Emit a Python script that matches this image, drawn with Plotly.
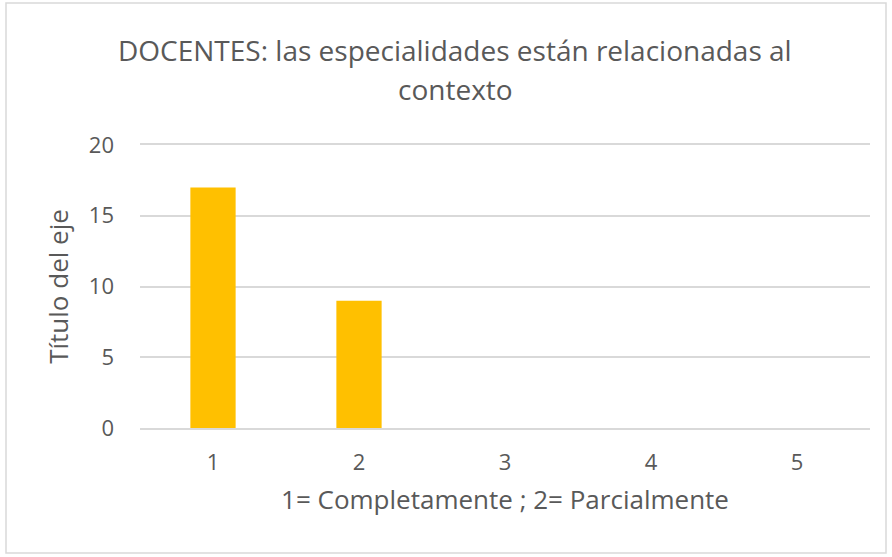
import plotly.graph_objects as go

categories = ["1", "2", "3", "4", "5"]
values = [17, 9, 0, 0, 0]
y_ticks = [0, 5, 10, 15, 20]
title_lines = ["DOCENTES: las especialidades están relacionadas al", "contexto"]
x_title = "1= Completamente ; 2= Parcialmente"
y_title = "Título del eje"

FONT = "Open Sans"
GREY = "#595959"
GRID = "#D9D9D9"

fig = go.Figure()
fig.add_trace(go.Bar(
    x=categories, y=values,
    marker=dict(color="#FFC000", line=dict(width=0)),
    width=0.31,
))

L, R, T, B = 140, 22, 145, 129
W, H = 892, 557
pw, ph = W - L - R, H - T - B

fig.update_layout(
    width=W, height=H,
    margin=dict(l=L, r=R, t=T, b=B),
    paper_bgcolor="white", plot_bgcolor="white",
    showlegend=False,
    font=dict(family=FONT, color=GREY, size=22),
    xaxis=dict(
        type="category", showgrid=False, zeroline=False,
        showline=True, mirror=True, linecolor=GRID, linewidth=1.5,
        ticks="", tickfont=dict(size=22, color=GREY), ticklabelstandoff=14,
        title=dict(text=x_title, font=dict(size=26, color=GREY), standoff=16),
    ),
    yaxis=dict(
        range=[0, 20], tickvals=y_ticks, showgrid=True, gridcolor=GRID,
        gridwidth=1.5, zeroline=False, showline=False, ticks="",
        tickfont=dict(size=22, color=GREY), ticklabelstandoff=25,
        title=dict(text=y_title, font=dict(size=26, color=GREY), standoff=12),
    ),
)

for line, ypx in zip(title_lines, [50, 89]):
    fig.add_annotation(
        text=line, xref="paper", yref="paper",
        x=(455 - L) / pw, y=(H - B - ypx) / ph,
        xanchor="center", yanchor="middle", showarrow=False,
        font=dict(family=FONT, size=28, color=GREY),
    )

fig.add_shape(
    type="rect", xref="paper", yref="paper",
    x0=(6 - L) / pw, x1=(886 - L) / pw,
    y0=(H - B - 553) / ph, y1=(H - B - 3) / ph,
    line=dict(color=GRID, width=1.5), fillcolor="rgba(0,0,0,0)",
)

fig.write_html(
    "out.html",
    config={"displayModeBar": False},
    post_script="document.body.style.margin='0px';document.body.style.overflow='hidden';",
)
